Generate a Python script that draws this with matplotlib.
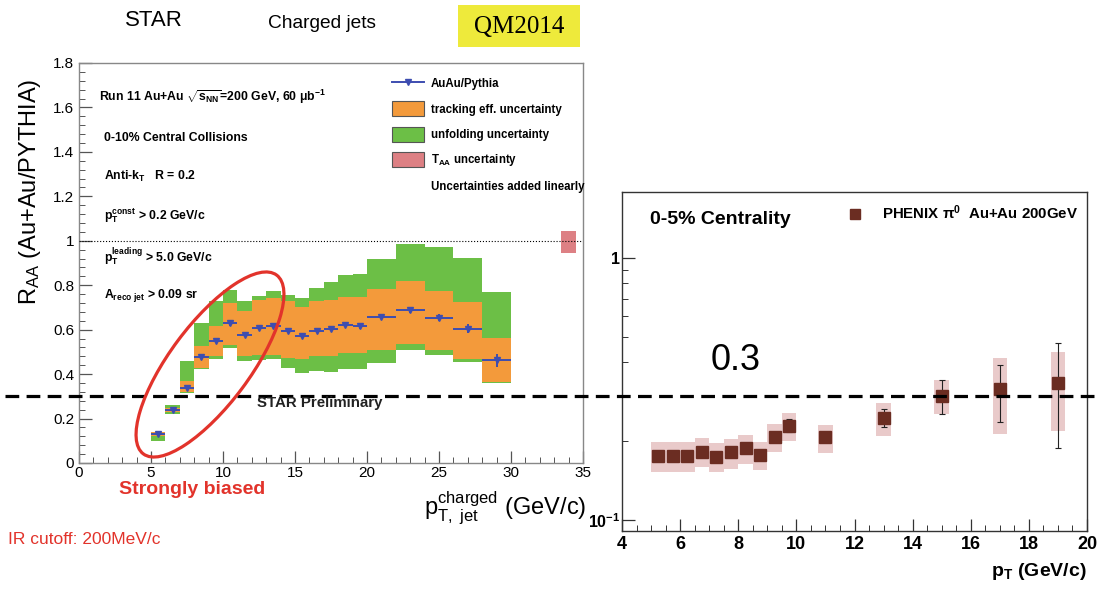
import matplotlib
matplotlib.use('Agg')
import matplotlib.pyplot as plt
import numpy as np
from matplotlib.patches import Ellipse, Rectangle, Patch
from matplotlib.lines import Line2D
from matplotlib.transforms import blended_transform_factory
from matplotlib.ticker import (MultipleLocator, FixedLocator, NullFormatter,
                               FixedFormatter, FuncFormatter)

SANS = ['Liberation Sans', 'DejaVu Sans']
plt.rcParams['font.family'] = SANS
plt.rcParams['mathtext.fontset'] = 'custom'
plt.rcParams['mathtext.rm'] = 'Liberation Sans'
plt.rcParams['mathtext.it'] = 'Liberation Sans:italic'
plt.rcParams['mathtext.bf'] = 'Liberation Sans:bold'

# ---------------- data: STAR charged jets (left) ----------------
star_bin_lo = [5, 6, 7, 8, 9, 10, 11, 12, 13, 14, 15, 16, 17, 18, 19, 20, 22, 24, 26, 28]
star_bin_hi = [6, 7, 8, 9, 10, 11, 12, 13, 14, 15, 16, 17, 18, 19, 20, 22, 24, 26, 28, 30]
star_raa = [0.130, 0.240, 0.339, 0.478, 0.548, 0.628, 0.577, 0.608, 0.618, 0.595,
            0.572, 0.593, 0.602, 0.622, 0.617, 0.658, 0.690, 0.654, 0.605, 0.462]
star_stat = [0.008, 0.008, 0.010, 0.010, 0.010, 0.012, 0.010, 0.010, 0.010, 0.010,
             0.010, 0.010, 0.010, 0.012, 0.012, 0.012, 0.014, 0.016, 0.022, 0.030]
unf_lo = [0.097, 0.219, 0.316, 0.421, 0.469, 0.518, 0.458, 0.463, 0.470, 0.428,
          0.406, 0.413, 0.409, 0.421, 0.421, 0.452, 0.508, 0.484, 0.455, 0.361]
unf_hi = [0.127, 0.260, 0.458, 0.630, 0.727, 0.779, 0.730, 0.752, 0.772, 0.757,
          0.742, 0.787, 0.816, 0.846, 0.851, 0.918, 0.985, 0.972, 0.922, 0.769]
trk_lo = [0.122, 0.230, 0.318, 0.428, 0.480, 0.533, 0.481, 0.485, 0.488, 0.473,
          0.466, 0.481, 0.481, 0.493, 0.496, 0.508, 0.535, 0.508, 0.469, 0.366]
trk_hi = [0.138, 0.248, 0.369, 0.525, 0.618, 0.719, 0.682, 0.734, 0.742, 0.727,
          0.704, 0.727, 0.734, 0.749, 0.749, 0.783, 0.820, 0.776, 0.725, 0.563]
taa_x = [34.0]
taa_lo = [0.945]
taa_hi = [1.045]

# ---------------- data: PHENIX pi0 (right) ----------------
phx_pt = [5.25, 5.75, 6.25, 6.75, 7.25, 7.75, 8.25, 8.75, 9.25, 9.75, 11, 13, 15, 17, 19]
phx_raa = [0.175, 0.175, 0.176, 0.182, 0.174, 0.182, 0.189, 0.177, 0.208, 0.229,
           0.208, 0.246, 0.297, 0.315, 0.332]
phx_stat_lo = [0.170, 0.170, 0.171, 0.177, 0.169, 0.177, 0.184, 0.172, 0.202, 0.216,
               0.202, 0.227, 0.255, 0.237, 0.188]
phx_stat_hi = [0.180, 0.180, 0.181, 0.187, 0.179, 0.187, 0.194, 0.182, 0.214, 0.242,
               0.214, 0.265, 0.342, 0.391, 0.475]
phx_sys_lo = [0.153, 0.153, 0.153, 0.159, 0.152, 0.157, 0.164, 0.155, 0.182, 0.201,
              0.180, 0.210, 0.254, 0.213, 0.218]
phx_sys_hi = [0.198, 0.198, 0.198, 0.205, 0.197, 0.203, 0.212, 0.199, 0.232, 0.257,
              0.230, 0.280, 0.342, 0.414, 0.439]

W, H = 1099, 589
fig = plt.figure(figsize=(W / 100, H / 100), dpi=100)
fig.patch.set_facecolor('white')


def fx(x):
    return x / W


def fy(y):
    return 1 - y / H


GREEN = '#6cbf46'
ORANGE = '#f39a3b'
BLUE = '#3d4db0'
PINK = '#dd8084'
RED = '#e2332b'

# ---------------- left panel ----------------
axL = fig.add_axes([fx(79), fy(463), (583 - 79) / W, 400 / H])
lo = np.array(star_bin_lo, float)
hi = np.array(star_bin_hi, float)
axL.bar(lo, np.array(unf_hi) - np.array(unf_lo), width=hi - lo, bottom=unf_lo,
        align='edge', color=GREEN, lw=0, zorder=2)
axL.bar(lo, np.array(trk_hi) - np.array(trk_lo), width=hi - lo, bottom=trk_lo,
        align='edge', color=ORANGE, lw=0, zorder=3)
axL.bar(taa_x, np.array(taa_hi) - np.array(taa_lo), width=1.0, bottom=taa_lo,
        color=PINK, lw=0, zorder=3)
axL.errorbar((lo + hi) / 2, star_raa, xerr=(hi - lo) / 2, yerr=star_stat, fmt='v',
             color=BLUE, ms=5, elinewidth=1.4, capsize=0, zorder=5)
axL.axhline(1.0, color='k', ls=':', lw=0.8, zorder=4)
axL.set_xlim(0, 35)
axL.set_ylim(0, 1.8)
axL.xaxis.set_major_locator(MultipleLocator(5))
axL.xaxis.set_minor_locator(MultipleLocator(1))
axL.yaxis.set_major_locator(MultipleLocator(0.2))
axL.yaxis.set_minor_locator(MultipleLocator(0.04))
axL.yaxis.set_major_formatter(FuncFormatter(lambda v, p: f'{round(v, 2):g}'))
axL.tick_params(which='both', direction='in', top=False, right=False, labelsize=11,
                color='#555555')
axL.tick_params(which='major', length=9, width=0.9)
axL.tick_params(which='minor', length=4.5, width=0.7)
axL.tick_params(axis='x', pad=2)
for s in axL.spines.values():
    s.set_color('#888888')
    s.set_linewidth(1.0)

# panel texts
tprops = dict(fontsize=8.8, fontweight='bold', ha='left', va='center')
fig.text(fx(99), fy(97), r'Run 11 Au+Au $\sqrt{\mathregular{s_{NN}}}$=200 GeV, 60 μb$\mathregular{^{-1}}$', **tprops)
fig.text(fx(104), fy(138), '0-10% Central Collisions', **tprops)
fig.text(fx(104), fy(176), r'Anti-k$\mathregular{_T}$   R = 0.2', **tprops)
fig.text(fx(104), fy(216), r'p$\mathregular{_T^{const}}$ > 0.2 GeV/c', **tprops)
fig.text(fx(104), fy(257), r'p$\mathregular{_T^{leading}}$ > 5.0 GeV/c', **tprops)
fig.text(fx(104), fy(296), r'A$\mathregular{_{reco\ jet}}$ > 0.09 sr', **tprops)
fig.text(fx(320), fy(403), 'STAR Preliminary', fontsize=10.8, fontweight='bold',
         ha='center', va='center', color='#222222')

handles = [Line2D([], [], color=BLUE, marker='v', ms=5, lw=1.4),
           Patch(facecolor=ORANGE, edgecolor='#555555', lw=0.8),
           Patch(facecolor=GREEN, edgecolor='#555555', lw=0.8),
           Patch(facecolor=PINK, edgecolor='#555555', lw=0.8),
           Line2D([], [], color='none')]
labels = ['AuAu/Pythia', 'tracking eff. uncertainty', 'unfolding uncertainty',
          r'T$\mathregular{_{AA}}$ uncertainty', 'Uncertainties added linearly']
leg = axL.legend(handles, labels, loc='upper left',
                 bbox_to_anchor=(fx(392), fy(76)), bbox_transform=fig.transFigure,
                 frameon=False, prop=dict(family=SANS, size=8.3, weight='bold'),
                 handlelength=2.8, handleheight=1.6, labelspacing=0.92,
                 handletextpad=0.55, borderpad=0, borderaxespad=0)

fig.text(fx(586), fy(508), r'$\mathregular{p_{T,\ jet}^{charged}}$ (GeV/c)', fontsize=17,
         ha='right', va='center')
fig.text(fx(30), fy(192), r'R$\mathregular{_{AA}}$ (Au+Au/PYTHIA)', fontsize=17,
         rotation=90, ha='center', va='center')
fig.text(fx(192), fy(490), 'Strongly biased', fontsize=14, fontweight='bold',
         color=RED, ha='center', va='center')
fig.text(fx(8), fy(540), 'IR cutoff: 200MeV/c', fontsize=12.5, color=RED,
         ha='left', va='center')

# header
fig.text(fx(154), fy(20), 'STAR', fontsize=16, ha='center', va='center')
fig.text(fx(322), fy(24), 'Charged jets', fontsize=13.8, ha='center', va='center')
fig.patches.append(Rectangle((fx(458), fy(47)), 122 / W, 42 / H, transform=fig.transFigure,
                             facecolor='#eeea3b', edgecolor='none', zorder=0))
fig.text(fx(519), fy(27), 'QM2014', fontsize=18, ha='center', va='center',
         family=['Liberation Serif', 'DejaVu Serif'])

# ---------------- right panel ----------------
axR = fig.add_axes([fx(622), fy(531), (1087 - 622) / W, 339 / H])
axR.patch.set_alpha(0)
ptv = np.array(phx_pt)
raa = np.array(phx_raa)
axR.bar(ptv, np.array(phx_sys_hi) - np.array(phx_sys_lo), width=0.5, bottom=phx_sys_lo,
        color='#e9caca', lw=0, zorder=2)
axR.errorbar(ptv, raa, yerr=[raa - np.array(phx_stat_lo), np.array(phx_stat_hi) - raa],
             fmt='s', ms=8, mfc='#6b2d22', mec='#6b2d22', ecolor='#222222',
             elinewidth=0.8, capsize=2, capthick=0.8, zorder=4)
axR.set_xlim(4, 20)
axR.set_yscale('log')
axR.set_ylim(0.0908, 1.787)
axR.xaxis.set_major_locator(MultipleLocator(2))
axR.xaxis.set_minor_locator(MultipleLocator(0.5))
axR.yaxis.set_major_locator(FixedLocator([0.1, 1]))
axR.yaxis.set_major_formatter(FixedFormatter([r'$\mathregular{10^{-1}}$', '1']))
axR.yaxis.set_minor_locator(FixedLocator([0.2, 0.3, 0.4, 0.5, 0.6, 0.7, 0.8, 0.9]))
axR.yaxis.set_minor_formatter(NullFormatter())
axR.tick_params(which='both', direction='in', top=False, right=False, color='#333333')
axR.tick_params(which='major', length=9, width=0.9, labelsize=13)
axR.tick_params(axis='y', labelsize=11.5, pad=1.5)
axR.tick_params(which='minor', length=4.5, width=0.7)
for lab in axR.get_xticklabels() + axR.get_yticklabels():
    lab.set_fontweight('bold')
for s in axR.spines.values():
    s.set_color('#333333')
    s.set_linewidth(1.0)

fig.text(fx(650), fy(220), '0-5% Centrality', fontsize=14, fontweight='bold',
         ha='left', va='center')
axR.legend([Line2D([], [], ls='none', marker='s', ms=7, mfc='#6b2d22', mec='#6b2d22')],
           [r'PHENIX π$\mathregular{^0}$  Au+Au 200GeV'], loc='center left',
           bbox_to_anchor=(fx(847), fy(213)), bbox_transform=fig.transFigure,
           frameon=False, prop=dict(family=SANS, size=10.8, weight='bold'),
           handlelength=1.0, handletextpad=1.3, borderpad=0, borderaxespad=0)
fig.text(fx(736), fy(361), '0.3', fontsize=26, ha='center', va='center')
fig.text(fx(1087), fy(572), r'$\mathregular{p_T}$ (GeV/c)', fontsize=14, fontweight='bold',
         ha='right', va='center')

# ---------------- overlay: threshold line and ellipse ----------------
axO = fig.add_axes([0, 0, 1, 1], facecolor='none')
axO.set_axis_off()
axO.set_xlim(0, W)
axO.set_ylim(H, 0)
trans = blended_transform_factory(fig.transFigure, axL.transData)
axO.plot([fx(5), 1.0], [0.3, 0.3], transform=trans, color='k', lw=2.3,
         ls=(0, (4.3, 2.3)), clip_on=False, zorder=10)
axO.add_patch(Ellipse((210, 364.5), width=2 * 111.5, height=2 * 40, angle=-53.3,
                      fill=False, edgecolor=RED, lw=2.3, zorder=11))

fig.savefig('out.png', dpi=100)
